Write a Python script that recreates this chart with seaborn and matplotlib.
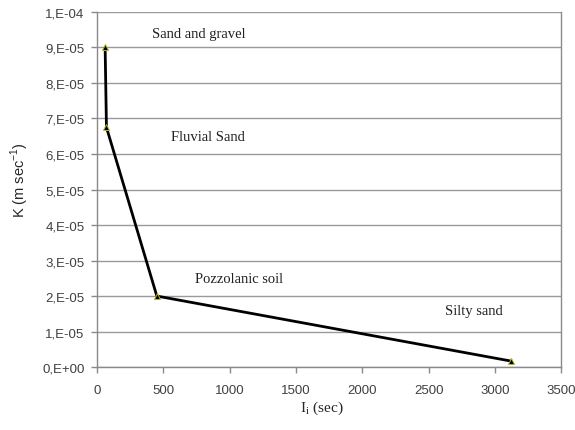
import pandas as pd
import matplotlib.pyplot as plt
import seaborn as sns

# data
soil = ["Sand and gravel", "Fluvial Sand", "Pozzolanic soil", "Silty sand"]
ii_sec = [60, 70, 450, 3120]
k_ms = [9.0e-5, 6.75e-5, 2.0e-5, 1.7e-6]

label_x = [410, 560, 735, 2620]
label_y = [9.38e-5, 6.48e-5, 2.48e-5, 1.58e-5]

y_ticks = [0, 1e-5, 2e-5, 3e-5, 4e-5, 5e-5, 6e-5, 7e-5, 8e-5, 9e-5, 1e-4]
y_tick_labels = ["0,E+00", "1,E-05", "2,E-05", "3,E-05", "4,E-05", "5,E-05",
                 "6,E-05", "7,E-05", "8,E-05", "9,E-05", "1,E-04"]
x_ticks = [0, 500, 1000, 1500, 2000, 2500, 3000, 3500]

df = pd.DataFrame({"soil": soil, "Ii": ii_sec, "K": k_ms})

sns.set_style("white")
fig = plt.figure(figsize=(5.75, 4.31), dpi=100)
ax = fig.add_axes([0.169, 0.146, 0.807, 0.824])

sns.lineplot(data=df, x="Ii", y="K", sort=False, color="black", linewidth=2.0,
             marker="^", markersize=5, markerfacecolor="black",
             markeredgecolor="#b4b428", markeredgewidth=0.7, ax=ax)

for name, lx, ly in zip(soil, label_x, label_y):
    ax.text(lx, ly, name, family="Liberation Serif", fontsize=10.5,
            ha="left", va="center", color="#222222")

ax.set_xlim(0, 3500)
ax.set_ylim(0, 1e-4)
ax.set_xticks(x_ticks)
ax.set_yticks(y_ticks)
ax.set_yticklabels(y_tick_labels)
ax.yaxis.grid(True, color="#9a9a9a", linewidth=1.0)
ax.xaxis.grid(False)
ax.set_axisbelow(True)

for side in ["left", "bottom", "right"]:
    ax.spines[side].set_color("#8a8a8a")
    ax.spines[side].set_linewidth(1.0)
ax.spines["top"].set_visible(False)

ax.tick_params(axis="both", which="major", length=4, width=1, color="#8a8a8a",
               labelsize=9.5, labelcolor="#404040", direction="out")
for lbl in ax.get_xticklabels() + ax.get_yticklabels():
    lbl.set_family(["Liberation Sans Narrow", "Liberation Sans"])
ax.tick_params(axis="x", pad=8)
ax.tick_params(axis="y", pad=5)
ax.tick_params(left=True, bottom=True)

ax.set_xlabel("I$_\\mathregular{i}$ (sec)", family="Liberation Serif",
              fontsize=11, va="center")
ax.xaxis.set_label_coords(0.483, -0.113)
ax.set_ylabel("K (m sec$^{\\mathregular{-1}}$)", family="Liberation Sans",
              fontsize=10.5, va="center")
ax.yaxis.set_label_coords(-0.167, 0.53)

fig.savefig("out.png", dpi=100)
